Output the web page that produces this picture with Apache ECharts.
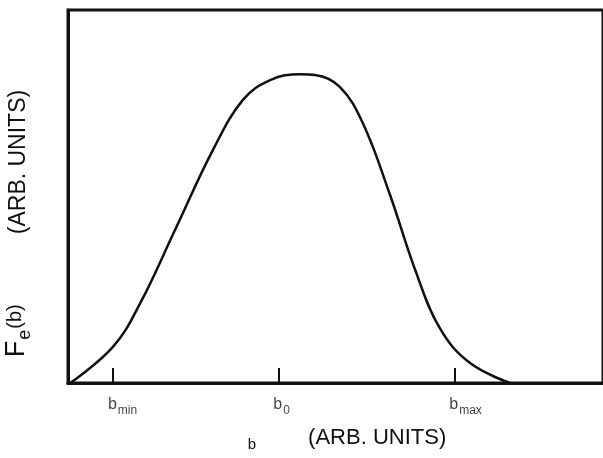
<!DOCTYPE html>
<html>
<head>
<meta charset="utf-8">
<script src="https://cdn.jsdelivr.net/npm/echarts@6/dist/echarts.min.js"></script>
<style>html,body{margin:0;padding:0;background:#fff}#c{width:603px;height:458px}</style>
</head>
<body>
<div id="c"></div>
<script>
// b (arbitrary units, 0..100 across the frame)
const bValues = [0.4, 8.4, 13.5, 20.0, 27.1, 32.7, 37.8, 43.4, 46.2, 50.8, 55.1, 60.2, 64.9, 69.5, 75.1, 82.6];
// Fe(b) (arbitrary units, 0..100 frame height)
const feValues = [0, 9.7, 21.4, 41.0, 62.5, 75.9, 81.2, 82.8, 82.6, 79.4, 69.7, 50.4, 30.3, 14.7, 5.4, 0];
// marked positions on the b axis and their subscripts
const tickPositions = [8.4, 39.3, 72.2];
const tickSubscripts = ['min', '0', 'max'];

const FONT = 'Liberation Sans, Helvetica, Arial, sans-serif';
const INK = '#111';
const chart = echarts.init(document.getElementById('c'), null, {renderer: 'canvas'});
chart.setOption({
  animation: false,
  backgroundColor: '#fff',
  grid: {left: 68, right: 0, top: 10, bottom: 75, show: true, borderColor: INK, borderWidth: 3,
         containLabel: false, outerBoundsMode: 'none'},
  xAxis: {
    type: 'value', min: 0, max: 100,
    axisLine: {show: true, lineStyle: {color: INK, width: 3}},
    axisTick: {show: true, inside: true, length: 15, customValues: tickPositions, lineStyle: {color: INK, width: 2}},
    axisLabel: {show: false},
    splitLine: {show: false},
    name: '{z|}{b|b}{g|}{t|(ARB. UNITS)}',
    nameLocation: 'middle',
    nameGap: 44,
    nameTextStyle: {
      fontFamily: FONT, color: INK,
      rich: {
        z: {width: 23},
        b: {fontSize: 15, fontFamily: FONT, color: INK, verticalAlign: 'bottom', padding: [0, 0, -3, 0]},
        g: {width: 52},
        t: {fontSize: 22, fontFamily: FONT, color: INK, verticalAlign: 'bottom'}
      }
    }
  },
  yAxis: {
    type: 'value', min: 0, max: 100,
    axisLine: {show: true, lineStyle: {color: INK, width: 3}},
    axisTick: {show: false},
    axisLabel: {show: false},
    splitLine: {show: false},
    name: '{F|F}{e|e}{p|(b)}{g|}{t|(ARB. UNITS)}{z|}',
    nameLocation: 'middle',
    nameGap: 38,
    nameTextStyle: {
      fontFamily: FONT, color: INK,
      rich: {
        F: {fontSize: 27, fontFamily: FONT, color: INK, verticalAlign: 'bottom'},
        e: {fontSize: 18, fontFamily: FONT, color: INK, verticalAlign: 'bottom', padding: [0, 0, -4, 1]},
        p: {fontSize: 20, fontFamily: FONT, color: INK, verticalAlign: 'bottom', padding: [0, 0, 5, 1]},
        g: {width: 70},
        t: {fontSize: 23, fontFamily: FONT, color: INK, verticalAlign: 'bottom'},
        z: {width: 54}
      }
    }
  },
  series: [
    {
      type: 'line',
      data: bValues.map((b, i) => [b, feValues[i]]),
      smooth: 0.4,
      showSymbol: false,
      lineStyle: {color: INK, width: 2.5},
      z: 3
    },
    {
      type: 'scatter',
      symbolSize: 0,
      data: tickPositions.map((p, i) => ({value: [p, 0], sub: tickSubscripts[i]})),
      label: {
        show: true,
        position: 'bottom',
        align: 'left',
        distance: 0,
        offset: [-5, 14],
        color: INK,
        formatter: p => '{b|b}{s|' + p.data.sub + '}',
        rich: {
          b: {fontSize: 16, fontFamily: FONT, color: INK, verticalAlign: 'top', lineHeight: 16},
          s: {fontSize: 12, fontFamily: FONT, color: INK, verticalAlign: 'top', lineHeight: 13, padding: [8, 0, 0, 1]}
        }
      },
      emphasis: {disabled: true},
      silent: true
    }
  ]
});
</script>
</body>
</html>
